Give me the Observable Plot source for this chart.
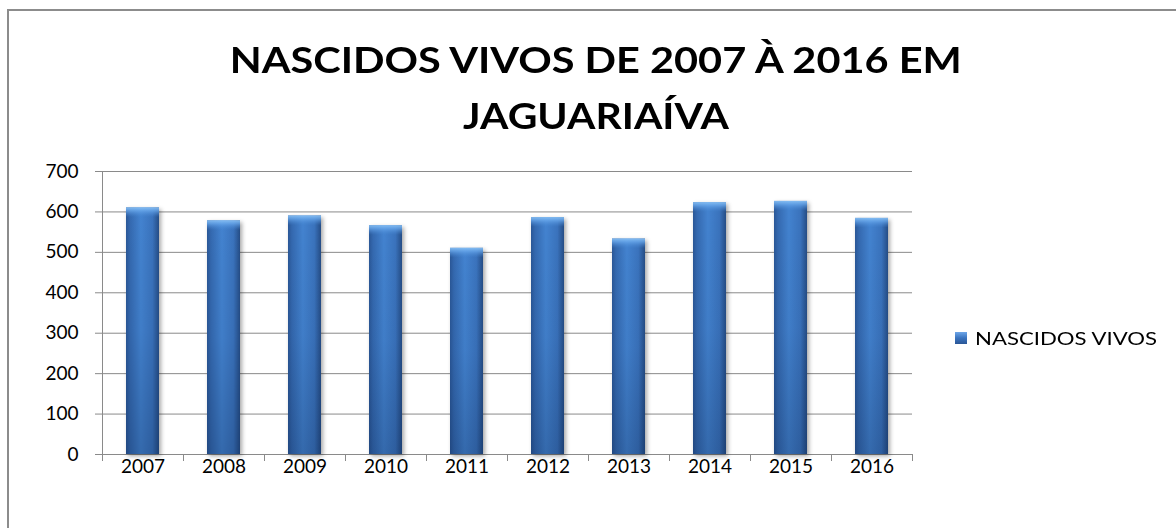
<!DOCTYPE html>
<html>
<head>
<meta charset="utf-8">
<script src="https://cdn.jsdelivr.net/npm/d3@7"></script>
<script src="https://cdn.jsdelivr.net/npm/@observablehq/plot@0.6"></script>
<style>
  html, body { margin: 0; padding: 0; background: #fff; }
  #wrap { position: relative; width: 1176px; height: 528px; overflow: hidden; background: #fff; font-family: Lato, "Open Sans", sans-serif; }
  #frame { position: absolute; left: 7px; top: 9px; width: 1200px; height: 600px; border-left: 2px solid #8c8c8c; border-top: 2px solid #8c8c8c; }
  .tline { position: absolute; left: 0; width: 1192px; text-align: center; font-family: Lato, sans-serif; font-weight: 700; font-size: 36px; color: #000; white-space: nowrap; line-height: 40px; }
  .tline span { display: inline-block; transform-origin: 50% 50%; }
  #chart { position: absolute; left: 0; top: 150px; }
  #legend { position: absolute; left: 955px; top: 327px; font-family: Lato, sans-serif; font-size: 18px; color: #000; display: flex; align-items: center; white-space: nowrap; }
  #legend .sw { width: 12px; height: 12px; margin-right: 8px; background: linear-gradient(180deg, #6ea6e8 0%, #3b74bf 50%, #2a5696 100%); }
</style>
</head>
<body>
<div id="wrap">
  <div id="frame"></div>
  <div class="tline" id="t1" style="top:39px"><span>NASCIDOS VIVOS DE 2007 À 2016 EM</span></div>
  <div class="tline" id="t2" style="top:95px"><span>JAGUARIAÍVA</span></div>
  <div id="chart"></div>
  <div id="legend"><div class="sw"></div><span id="legText">NASCIDOS VIVOS</span></div>
</div>
<script>
const years = ["2007","2008","2009","2010","2011","2012","2013","2014","2015","2016"];
const nascidosVivos = [610, 578, 590, 566, 510, 586, 533, 623, 626, 584];
const yTicks = [0, 100, 200, 300, 400, 500, 600, 700];
const seriesName = "NASCIDOS VIVOS";

const data = years.map((y, i) => ({year: y, value: nascidosVivos[i]}));

const plot = Plot.plot({
  width: 1176,
  height: 360,
  marginTop: 21,
  marginBottom: 56,
  marginLeft: 102,
  marginRight: 264,
  style: {fontFamily: "Lato, sans-serif", fontSize: "19px", color: "#000", background: "transparent"},
  x: {type: "band", domain: years, paddingInner: 0.59, paddingOuter: 0.295, axis: null, label: null},
  y: {domain: [0, 700], axis: null, label: null},
  marks: [
    Plot.ruleY(yTicks, {stroke: "#8a8a8a", strokeWidth: 1}),
    Plot.ruleX([years[0]], {stroke: "#8a8a8a", dx: -40.5, y1: 0, y2: 700}),
    Plot.axisY({ticks: yTicks, tickSize: 7, tickPadding: 17, stroke: "#8a8a8a", fill: "#000", fontSize: 19, label: null}),
    Plot.axisX({ticks: years, tickSize: 7, dx: -40.5, tickFormat: () => "", stroke: "#8a8a8a", label: null}),
    Plot.axisX({ticks: [years[years.length - 1]], tickSize: 7, dx: 40.5, tickFormat: () => "", stroke: "#8a8a8a", label: null}),
    Plot.axisX({ticks: years, tickSize: 0, tickPadding: 5, fill: "#000", fontSize: 19, label: null}),
    Plot.barY(data, {x: "year", y: "value", fill: "url(#gH)"}),
    Plot.barY(data, {x: "year", y: "value", fill: "url(#gV)"}),
    Plot.barY(data, {x: "year", y1: d => d.value - 24, y2: "value", fill: "url(#gTop)"})
  ]
});

// gradient definitions
const ns = "http://www.w3.org/2000/svg";
const defs = document.createElementNS(ns, "defs");
defs.innerHTML = `
  <linearGradient id="gH" x1="0" x2="1" y1="0" y2="0">
    <stop offset="0" stop-color="#2a5797"/>
    <stop offset="0.12" stop-color="#3469b0"/>
    <stop offset="0.45" stop-color="#4383d0"/>
    <stop offset="0.8" stop-color="#3a73bd"/>
    <stop offset="1" stop-color="#254d86"/>
  </linearGradient>
  <linearGradient id="gV" x1="0" x2="0" y1="0" y2="1">
    <stop offset="0" stop-color="#000" stop-opacity="0"/>
    <stop offset="0.5" stop-color="#001030" stop-opacity="0.05"/>
    <stop offset="1" stop-color="#001030" stop-opacity="0.22"/>
  </linearGradient>
  <linearGradient id="gTop" x1="0" x2="0" y1="0" y2="1">
    <stop offset="0" stop-color="#8cc4f7" stop-opacity="0.9"/>
    <stop offset="0.35" stop-color="#6aa9ec" stop-opacity="0.75"/>
    <stop offset="1" stop-color="#4a8ad6" stop-opacity="0"/>
  </linearGradient>`;
plot.insertBefore(defs, plot.firstChild);
const barGroups = plot.querySelectorAll('g[aria-label="bar"]');
if (barGroups[0]) barGroups[0].style.filter = "drop-shadow(2px 2px 2px rgba(0,0,0,0.35))";

document.getElementById("chart").appendChild(plot);
document.getElementById("legText").textContent = seriesName;

// fit title widths to reference
function fit(id, target) {
  const s = document.querySelector("#" + id + " span");
  const w = s.getBoundingClientRect().width;
  if (w > 0) s.style.transform = `scaleX(${target / w})`;
}
fit("t1", 732);
fit("t2", 266);
const lt = document.getElementById("legText");
const lw = lt.getBoundingClientRect().width;
if (lw > 0) { lt.style.display = "inline-block"; lt.style.transformOrigin = "0 50%"; lt.style.transform = `scaleX(${182 / lw})`; }
</script>
</body>
</html>
